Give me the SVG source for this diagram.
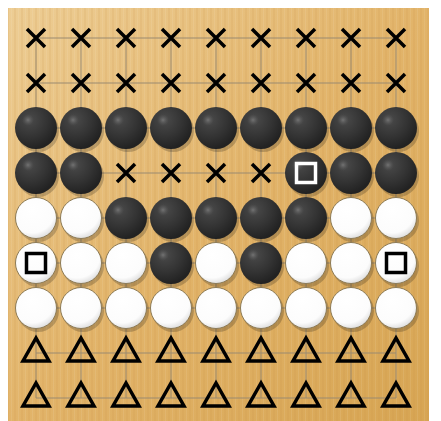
<svg xmlns="http://www.w3.org/2000/svg" width="441" height="421" viewBox="0 0 441 421">
<defs>
<linearGradient id="wood" x1="0" y1="0" x2="1" y2="1">
<stop offset="0" stop-color="#EDCD94"/>
<stop offset="0.5" stop-color="#E2B46A"/>
<stop offset="1" stop-color="#D7A553"/>
</linearGradient>
<pattern id="grain" width="7" height="421" patternUnits="userSpaceOnUse">
<rect x="0" y="0" width="2" height="421" fill="#C8913F" opacity="0.12"/>
<rect x="4" y="0" width="1" height="421" fill="#FFFFFF" opacity="0.08"/>
</pattern>
<radialGradient id="bg" cx="0.35" cy="0.3" r="0.7">
<stop offset="0" stop-color="#4a4a4a"/>
<stop offset="0.6" stop-color="#333333"/>
<stop offset="1" stop-color="#222222"/>
</radialGradient>
<radialGradient id="hl" cx="0.5" cy="0.5" r="0.5">
<stop offset="0" stop-color="#777777" stop-opacity="0.9"/>
<stop offset="1" stop-color="#555555" stop-opacity="0"/>
</radialGradient>
<radialGradient id="wg" cx="0.4" cy="0.3" r="0.75">
<stop offset="0" stop-color="#FFFFFF"/>
<stop offset="0.75" stop-color="#FCFCFC"/>
<stop offset="1" stop-color="#D8D8D8"/>
</radialGradient>
<g id="b">
<circle cx="2" cy="3" r="21" fill="#000" opacity="0.2"/>
<circle r="21" fill="url(#bg)"/>
<circle cx="-8" cy="-8" r="6" fill="url(#hl)"/>
</g>
<g id="w">
<circle cx="2" cy="3" r="21" fill="#000" opacity="0.2"/>
<circle r="20.5" fill="url(#wg)" stroke="#8C7A55" stroke-width="1"/>
</g>
<path id="x" d="M-9,-9L9,9M9,-9L-9,9" stroke="#000" stroke-width="3.5" fill="none"/>
<path id="t" d="M0,-15L-13,8L13,8Z" stroke="#000" stroke-width="3.5" fill="none" stroke-linejoin="miter"/>
</defs>
<style>
.grid line{stroke:#9A8A70;stroke-width:1}
.sqb{fill:none;stroke:#000;stroke-width:3.5}
.sqw{fill:none;stroke:#fff;stroke-width:3.5}
</style>
<rect x="8" y="8" width="421" height="413" fill="url(#wood)"/>
<rect x="8" y="8" width="421" height="413" fill="url(#grain)"/>
<g class="grid" id="connectors">
<line x1="36" y1="38" x2="396" y2="38"/><line x1="36" y1="83" x2="396" y2="83"/><line x1="36" y1="128" x2="396" y2="128"/><line x1="36" y1="173" x2="396" y2="173"/><line x1="36" y1="218" x2="396" y2="218"/><line x1="36" y1="263" x2="396" y2="263"/><line x1="36" y1="308" x2="396" y2="308"/><line x1="36" y1="353" x2="396" y2="353"/><line x1="36" y1="398" x2="396" y2="398"/>
<line x1="36" y1="38" x2="36" y2="398"/><line x1="81" y1="38" x2="81" y2="398"/><line x1="126" y1="38" x2="126" y2="398"/><line x1="171" y1="38" x2="171" y2="398"/><line x1="216" y1="38" x2="216" y2="398"/><line x1="261" y1="38" x2="261" y2="398"/><line x1="306" y1="38" x2="306" y2="398"/><line x1="351" y1="38" x2="351" y2="398"/><line x1="396" y1="38" x2="396" y2="398"/>
</g>
<g id="row1"><use href="#x" x="36" y="38"/><use href="#x" x="81" y="38"/><use href="#x" x="126" y="38"/><use href="#x" x="171" y="38"/><use href="#x" x="216" y="38"/><use href="#x" x="261" y="38"/><use href="#x" x="306" y="38"/><use href="#x" x="351" y="38"/><use href="#x" x="396" y="38"/></g>
<g id="row2"><use href="#x" x="36" y="83"/><use href="#x" x="81" y="83"/><use href="#x" x="126" y="83"/><use href="#x" x="171" y="83"/><use href="#x" x="216" y="83"/><use href="#x" x="261" y="83"/><use href="#x" x="306" y="83"/><use href="#x" x="351" y="83"/><use href="#x" x="396" y="83"/></g>
<g id="row3"><use href="#b" x="36" y="128"/><use href="#b" x="81" y="128"/><use href="#b" x="126" y="128"/><use href="#b" x="171" y="128"/><use href="#b" x="216" y="128"/><use href="#b" x="261" y="128"/><use href="#b" x="306" y="128"/><use href="#b" x="351" y="128"/><use href="#b" x="396" y="128"/></g>
<g id="row4"><use href="#b" x="36" y="173"/><use href="#b" x="81" y="173"/><use href="#x" x="126" y="173"/><use href="#x" x="171" y="173"/><use href="#x" x="216" y="173"/><use href="#x" x="261" y="173"/><use href="#b" x="306" y="173"/><rect class="sqw" x="296.5" y="163.5" width="19" height="19"/><use href="#b" x="351" y="173"/><use href="#b" x="396" y="173"/></g>
<g id="row5"><use href="#w" x="36" y="218"/><use href="#w" x="81" y="218"/><use href="#b" x="126" y="218"/><use href="#b" x="171" y="218"/><use href="#b" x="216" y="218"/><use href="#b" x="261" y="218"/><use href="#b" x="306" y="218"/><use href="#w" x="351" y="218"/><use href="#w" x="396" y="218"/></g>
<g id="row6"><use href="#w" x="36" y="263"/><rect class="sqb" x="26.5" y="253.5" width="19" height="19"/><use href="#w" x="81" y="263"/><use href="#w" x="126" y="263"/><use href="#b" x="171" y="263"/><use href="#w" x="216" y="263"/><use href="#b" x="261" y="263"/><use href="#w" x="306" y="263"/><use href="#w" x="351" y="263"/><use href="#w" x="396" y="263"/><rect class="sqb" x="386.5" y="253.5" width="19" height="19"/></g>
<g id="row7"><use href="#w" x="36" y="308"/><use href="#w" x="81" y="308"/><use href="#w" x="126" y="308"/><use href="#w" x="171" y="308"/><use href="#w" x="216" y="308"/><use href="#w" x="261" y="308"/><use href="#w" x="306" y="308"/><use href="#w" x="351" y="308"/><use href="#w" x="396" y="308"/></g>
<g id="row8"><use href="#t" x="36" y="353"/><use href="#t" x="81" y="353"/><use href="#t" x="126" y="353"/><use href="#t" x="171" y="353"/><use href="#t" x="216" y="353"/><use href="#t" x="261" y="353"/><use href="#t" x="306" y="353"/><use href="#t" x="351" y="353"/><use href="#t" x="396" y="353"/></g>
<g id="row9"><use href="#t" x="36" y="398"/><use href="#t" x="81" y="398"/><use href="#t" x="126" y="398"/><use href="#t" x="171" y="398"/><use href="#t" x="216" y="398"/><use href="#t" x="261" y="398"/><use href="#t" x="306" y="398"/><use href="#t" x="351" y="398"/><use href="#t" x="396" y="398"/></g>
</svg>
